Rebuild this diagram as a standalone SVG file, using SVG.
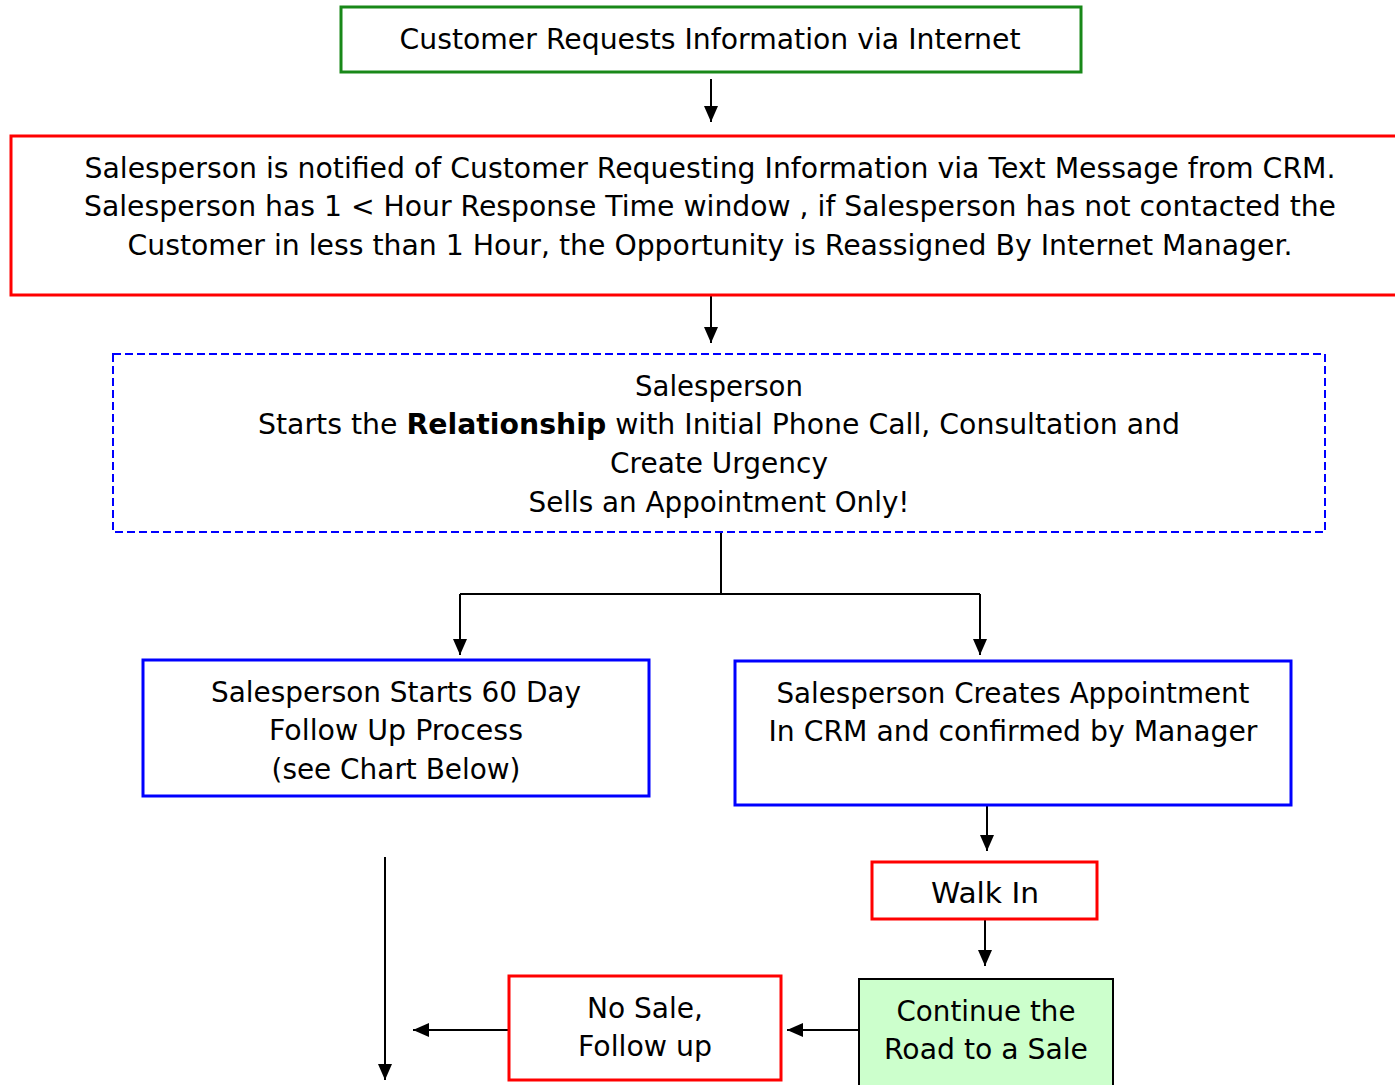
<svg xmlns="http://www.w3.org/2000/svg" width="1395" height="1085" viewBox="0 0 1395 1085">
<style>
text{font-family:"DejaVu Sans","Liberation Sans",sans-serif;font-size:28px;fill:#000;text-anchor:middle}
.box{fill:#fff;stroke-width:3}
.green{stroke:#188818}
.red{stroke:#ff0000}
.blue{stroke:#0000ff}
.conn{stroke:#000;stroke-width:2;fill:none}
</style>
<defs>
<marker id="ah" markerUnits="userSpaceOnUse" markerWidth="16" markerHeight="14" refX="16" refY="7" orient="auto" viewBox="0 0 16 14">
<path d="M0,0 L16,7 L0,14 z" fill="#000"/>
</marker>
</defs>
<rect width="1395" height="1085" fill="#fff"/>
<g id="connectors">
<line class="conn" x1="711" y1="79" x2="711" y2="122" marker-end="url(#ah)"/>
<line class="conn" x1="711" y1="295" x2="711" y2="343" marker-end="url(#ah)"/>
<polyline class="conn" points="721,532 721,594"/>
<polyline class="conn" points="460,594 980,594"/>
<line class="conn" x1="460" y1="594" x2="460" y2="655" marker-end="url(#ah)"/>
<line class="conn" x1="980" y1="594" x2="980" y2="655" marker-end="url(#ah)"/>
<line class="conn" x1="987" y1="805" x2="987" y2="851" marker-end="url(#ah)"/>
<line class="conn" x1="985" y1="919" x2="985" y2="966" marker-end="url(#ah)"/>
<line class="conn" x1="859" y1="1030" x2="787" y2="1030" marker-end="url(#ah)"/>
<line class="conn" x1="509" y1="1030" x2="413" y2="1030" marker-end="url(#ah)"/>
<line class="conn" x1="385" y1="857" x2="385" y2="1080" marker-end="url(#ah)"/>
</g>
<g id="n1">
<rect class="box green" x="341" y="7" width="740" height="65"/>
<text x="710" y="49" textLength="621" lengthAdjust="spacingAndGlyphs">Customer Requests Information via Internet</text>
</g>
<g id="n2">
<rect class="box red" x="11" y="136" width="1400" height="159"/>
<text x="710" y="178" textLength="1251" lengthAdjust="spacingAndGlyphs">Salesperson is notified of Customer Requesting Information via Text Message from CRM.</text>
<text x="710" y="216" textLength="1252" lengthAdjust="spacingAndGlyphs">Salesperson has 1 &lt; Hour Response Time window , if Salesperson has not contacted the</text>
<text x="710" y="255" textLength="1165" lengthAdjust="spacingAndGlyphs">Customer in less than 1 Hour, the Opportunity is Reassigned By Internet Manager.</text>
</g>
<g id="n3">
<rect x="113" y="354" width="1212" height="178" fill="#fff" stroke="#0000ff" stroke-width="2" stroke-dasharray="8,4"/>
<text x="719" y="396" textLength="168" lengthAdjust="spacingAndGlyphs">Salesperson</text>
<text x="719" y="434" textLength="922" lengthAdjust="spacingAndGlyphs">Starts the <tspan font-weight="bold">Relationship</tspan> with Initial Phone Call, Consultation and</text>
<text x="719" y="473" textLength="218" lengthAdjust="spacingAndGlyphs">Create Urgency</text>
<text x="719" y="512" textLength="381" lengthAdjust="spacingAndGlyphs">Sells an Appointment Only!</text>
</g>
<g id="n4">
<rect class="box blue" x="143" y="660" width="506" height="136"/>
<text x="396" y="702" textLength="370" lengthAdjust="spacingAndGlyphs">Salesperson Starts 60 Day</text>
<text x="396" y="740" textLength="254" lengthAdjust="spacingAndGlyphs">Follow Up Process</text>
<text x="396" y="779" textLength="249" lengthAdjust="spacingAndGlyphs">(see Chart Below)</text>
</g>
<g id="n5">
<rect class="box blue" x="735" y="661" width="556" height="144"/>
<text x="1013" y="703" textLength="473" lengthAdjust="spacingAndGlyphs">Salesperson Creates Appointment</text>
<text x="1013" y="741" textLength="489" lengthAdjust="spacingAndGlyphs">In CRM and confirmed by Manager</text>
</g>
<g id="n6">
<rect class="box red" x="872" y="862" width="225" height="57"/>
<text x="985" y="903" textLength="108" lengthAdjust="spacingAndGlyphs">Walk In</text>
</g>
<g id="n7">
<rect x="859" y="979" width="254" height="120" fill="#ccffcc" stroke="#000" stroke-width="2"/>
<text x="986" y="1021" textLength="179" lengthAdjust="spacingAndGlyphs">Continue the</text>
<text x="986" y="1059" textLength="204" lengthAdjust="spacingAndGlyphs">Road to a Sale</text>
</g>
<g id="n8">
<rect class="box red" x="509" y="976" width="272" height="104" stroke-width="2"/>
<text x="645" y="1018" textLength="116" lengthAdjust="spacingAndGlyphs">No Sale,</text>
<text x="645" y="1056" textLength="134" lengthAdjust="spacingAndGlyphs">Follow up</text>
</g>
</svg>
